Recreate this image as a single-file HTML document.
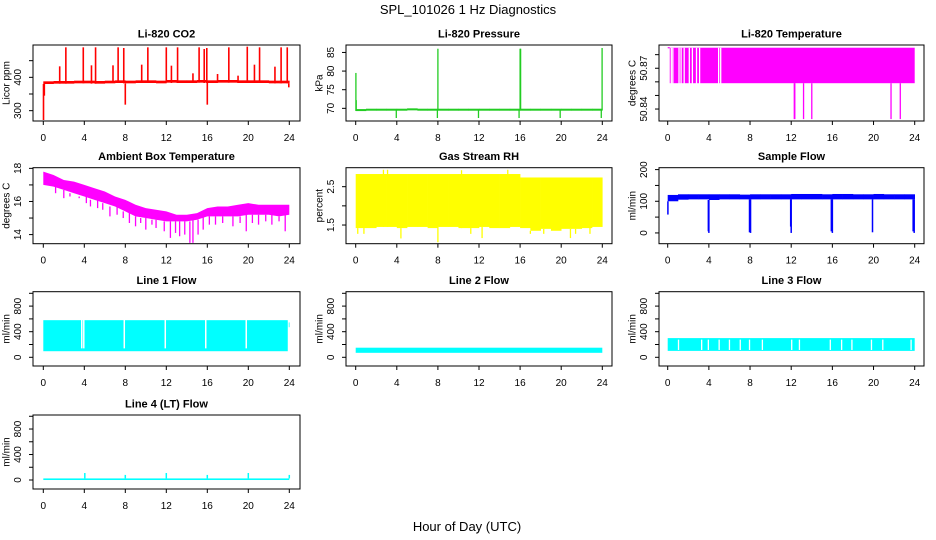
<!DOCTYPE html>
<html><head><meta charset="utf-8"><style>
html,body{margin:0;padding:0;background:#fff;}
svg{display:block;font-family:"Liberation Sans",Arial,sans-serif;}
</style></head><body>
<svg id="chart" width="936" height="540" viewBox="0 0 936 540" xmlns="http://www.w3.org/2000/svg">
<rect x="0" y="0" width="936" height="540" fill="#fff"/>
<text x="468" y="14" text-anchor="middle" font-size="13">SPL_101026  1 Hz Diagnostics</text>
<text x="467" y="531" text-anchor="middle" font-size="13">Hour of Day (UTC)</text>
</svg>
<script>
// ---------- data ----------
const hourTicks = [0,4,8,12,16,20,24];
const hours = [0,1,2,3,4,5,6,7,8,9,10,11,12,13,14,15,16,17,18,19,20,21,22,23,24];
// CO2
const co2BaseLow  = [380,381,381,382,382,381,382,383,382,383,383,382,384,383,383,384,383,384,384,383,383,383,382,382,382];
const co2BaseHigh = [388,389,389,390,390,389,390,391,390,391,391,390,392,391,391,392,391,392,392,391,391,391,390,390,390];
const co2SpikeHours = [0.02,0.1,1.6,2.2,3.9,4.7,5.1,6.8,7.3,7.85,8.0,9.6,10.2,12.0,12.5,13.1,14.6,15.2,15.7,15.95,16.0,17.0,18.1,19.0,19.9,20.6,21.1,22.6,23.2,23.8,23.95];
const co2SpikeVals  = [272,345,433,490,490,436,490,436,490,488,318,438,490,490,435,490,412,490,485,488,318,410,490,405,492,438,490,432,490,490,370];
// Pressure
const presBaseLow  = [69.3,69.4,69.4,69.4,69.5,69.5,69.5,69.5,69.5,69.5,69.5,69.5,69.5,69.5,69.5,69.5,69.5,69.5,69.5,69.5,69.5,69.5,69.5,69.5,69.5];
const presBaseHigh = [69.8,69.9,69.9,69.9,69.9,70.0,69.9,69.9,69.9,69.9,69.9,69.9,69.9,69.9,69.9,69.9,69.9,69.9,69.9,69.9,69.9,69.9,69.9,69.9,69.9];
const presSpikeHours = [0.02,0.05,3.95,7.95,8.0,11.95,15.9,16.0,16.05,19.9,23.9,23.98];
const presSpikeVals  = [79.5,72.2,67.4,67.4,86.0,67.4,67.4,86.0,86.0,67.4,67.4,86.2];
// Li-820 temperature
const ltBandLow = 50.859, ltBandHigh = 50.8851, ltBandStart = 0.2;
const ltGapHours = [0.35,0.5,1.1,1.3,1.6,2.1,2.4,2.8,3.1,4.95,5.15];
const ltSpikeHours = [12.3,12.35,13.2,14.0,21.7,22.6];
const ltSpikeVals  = [50.8326,50.8326,50.8326,50.8326,50.8326,50.8326];
// Ambient box temperature
const ambHigh = [17.8,17.6,17.3,17.2,17.0,16.8,16.6,16.3,16.1,15.8,15.6,15.5,15.4,15.2,15.2,15.3,15.6,15.7,15.7,15.8,15.9,15.8,15.8,15.8,15.8];
const ambLow  = [17.0,16.9,16.7,16.5,16.3,16.1,15.9,15.7,15.4,15.1,15.0,14.9,14.8,14.8,14.8,14.9,15.1,15.1,15.1,15.1,15.2,15.2,15.2,15.1,15.2];
const ambSpikeHours = [1.2,2,2.6,3.5,4.2,4.6,5.3,5.8,6.5,7.2,7.8,8.4,9.0,9.5,10.0,10.6,11.0,11.8,12.4,12.9,13.3,13.8,14.3,14.6,15.1,15.6,16.2,16.8,17.5,18.5,19.2,19.8,20.4,21.0,21.7,22.3,23.0,23.6];
const ambSpikeVals  = [16.5,16.2,16.3,16.2,15.9,15.7,15.6,15.5,15.1,15.2,15.0,14.7,14.5,14.7,14.3,14.6,14.4,14.2,13.8,14.1,13.9,14.0,13.5,13.5,14.0,14.3,14.6,14.6,14.7,14.5,14.7,14.2,14.7,14.6,14.8,14.6,14.8,14.2];
// RH
const rhHigh = [2.83,2.83,2.83,2.83,2.83,2.83,2.83,2.83,2.83,2.83,2.83,2.83,2.83,2.83,2.83,2.83,2.74,2.74,2.74,2.74,2.74,2.74,2.74,2.74,2.6];
const rhLow  = [1.42,1.42,1.45,1.45,1.42,1.45,1.45,1.42,1.45,1.45,1.42,1.42,1.45,1.42,1.42,1.45,1.42,1.35,1.40,1.35,1.40,1.40,1.42,1.45,2.1];
const rhSpikeHours = [0.2,0.8,2.7,3.1,4.4,8.0,10.3,11.2,12.3,14.8,17.0,18.3,20.9,21.4,22.8];
const rhSpikeVals  = [1.27,1.27,2.94,2.94,1.15,1.05,2.93,1.27,1.16,2.94,1.27,1.27,1.16,1.27,1.27];
// Sample flow
const sfLow  = [100,105,106,106,104,106,106,106,106,106,106,106,106,106,106,106,106,106,106,106,106,106,106,106,106];
const sfHigh = [120,122,122,122,122,122,122,121,122,122,122,122,123,123,123,122,123,123,122,122,123,122,122,122,118];
const sfSpikeHours = [0.02,3.95,4.0,7.95,8.05,11.95,12.0,15.9,16.0,19.9,23.85,23.95];
const sfSpikeVals  = [58,5,0,2,0,20,0,5,0,2,5,0];
// Line flows
const l1Low = 95, l1High = 580, l1End = [23.95,24.02], l1EndVals = [470,545];
const l1GapHours = [3.75,3.95,7.9,11.9,15.85,19.8];
const l2Low = 70, l2High = 150;
const l3Low = 100, l3High = 300;
const l3GapHours = [1.05,3.3,3.95,5.0,6.0,7.05,7.95,9.2,12.05,12.8,15.8,16.9,17.9,19.8,20.9,23.65];
const l4Low = 0, l4High = 25;
const l4SpikeHours = [4.05,8.0,12.0,16.0,20.0,24.0];
const l4SpikeVals  = [110,80,110,80,110,80];

// ---------- helpers ----------
const NS = "http://www.w3.org/2000/svg";
const svg = document.getElementById('chart');
function mk(tag, attrs, parent){
  const e = document.createElementNS(NS, tag);
  for (const k in attrs) e.setAttribute(k, attrs[k]);
  (parent||svg).appendChild(e);
  return e;
}
const cols = [[33,300,43.3,289.3],[346,612,355.7,602.3],[659,924,667.7,914.7]];
const rows = [[45,121],[167.7,243.7],[291.7,366],[415,489]];

function panel(name, col, row, title, ylab, ylim, yticks, ylabels){
  const [l,r,x0,x24] = cols[col];
  const [t,b] = rows[row];
  const g = mk('g', {});
  
  
  const X = h => x0 + (x24 - x0) * h / 24;
  const Y = v => b - (b - t) * (v - ylim[0]) / (ylim[1] - ylim[0]);
  const data = mk('g', {}, g);
  
  
  const finish = () => {
    const box = mk('rect', {x:l, y:t, width:r-l, height:b-t, fill:'none', stroke:'#000', 'stroke-width':1}, g);
    
    
    const tt = mk('text', {x:(l+r)/2, y:t-7.5, 'text-anchor':'middle', 'font-size':11, 'font-weight':'bold'}, g);
    tt.textContent = title;
    
    
    const xa = mk('g', {}, g);
    
    
    hourTicks.forEach(h => {
      mk('line', {x1:X(h), x2:X(h), y1:b, y2:b+4, stroke:'#000'}, xa);
      const tx = mk('text', {x:X(h), y:b+20, 'text-anchor':'middle', 'font-size':10}, xa);
      tx.textContent = h;
    });
    const ya = mk('g', {}, g);
    
    
    yticks.forEach((v,i) => {
      mk('line', {x1:l-4, x2:l, y1:Y(v), y2:Y(v), stroke:'#000'}, ya);
      if (ylabels[i] !== '') {
        const ty = mk('text', {x:0, y:0, 'text-anchor':'middle', 'font-size':10,
          transform:`translate(${l-12},${Y(v)}) rotate(-90)`}, ya);
        ty.textContent = ylabels[i];
      }
    });
    const yl = mk('text', {x:0, y:0, 'text-anchor':'middle', 'font-size':10,
      transform:`translate(${l-23.5},${(t+b)/2}) rotate(-90)`}, g);
    yl.textContent = ylab;
    
    
  };
  return {X, Y, g: data, finish};
}
function bandSteps(p, hs, lo, hi, color){
  for (let i = 0; i < hs.length - 1; i++) {
    const y1 = p.Y(hi[i]), y2 = p.Y(lo[i]);
    mk('rect', {x:p.X(hs[i]), y:y1, width:p.X(hs[i+1]) - p.X(hs[i]) + 0.3, height:Math.max(2, y2 - y1), fill:color}, p.g);
  }
}
function bandPoly(p, hs, lo, hi, color){
  const pts = [];
  hs.forEach((h,i) => pts.push(p.X(h) + ',' + p.Y(hi[i])));
  for (let i = hs.length - 1; i >= 0; i--) pts.push(p.X(hs[i]) + ',' + p.Y(lo[i]));
  mk('polygon', {points: pts.join(' '), fill: color}, p.g);
}
function spikes(p, hs, vs, baseFn, color, w){
  hs.forEach((h,i) => {
    mk('line', {x1:p.X(h), x2:p.X(h), y1:p.Y(baseFn(h)), y2:p.Y(vs[i]), stroke:color, 'stroke-width':w||1.5}, p.g);
  });
}
function lookup(arr){ return h => arr[Math.min(arr.length-1, Math.max(0, Math.round(h)))]; }
function gaps(p, hs, lo, hi, w){
  hs.forEach(h => mk('line', {x1:p.X(h), x2:p.X(h), y1:p.Y(hi)-1, y2:p.Y(lo)+1, stroke:'#fff', 'stroke-width':w||1.3}, p.g));
}
function constBand(p, h0, h1, lo, hi, color){
  mk('rect', {x:p.X(h0), y:p.Y(hi), width:p.X(h1)-p.X(h0), height:Math.max(1.5,p.Y(lo)-p.Y(hi)), fill:color}, p.g);
}

// ---------- panels ----------
let p;
p = panel('co2', 0, 0, 'Li-820 CO2', 'Licor ppm', [269,497], [300,350,400,450], ['300','','400','']);
bandSteps(p, hours, co2BaseLow, co2BaseHigh, '#ff0000');
spikes(p, co2SpikeHours, co2SpikeVals, lookup(co2BaseLow), '#ff0000', 1.6);
p.finish();

p = panel('pressure', 1, 0, 'Li-820 Pressure', 'kPa', [66.6,87], [70,75,80,85], ['70','75','80','85']);
bandSteps(p, hours, presBaseLow, presBaseHigh, '#22cc22');
spikes(p, presSpikeHours, presSpikeVals, lookup(presBaseLow), '#22cc22', 1.3);
p.finish();

p = panel('li820-temperature', 2, 0, 'Li-820 Temperature', 'degrees C', [50.8312,50.8871], [50.84,50.85,50.86,50.87,50.88], ['50.84','','','50.87','']);
mk('line', {x1:p.X(0), x2:p.X(ltBandStart), y1:p.Y(ltBandHigh), y2:p.Y(ltBandHigh), stroke:'#ff00ff', 'stroke-width':1.2}, p.g);
constBand(p, ltBandStart, 24, ltBandLow, ltBandHigh, '#ff00ff');
gaps(p, ltGapHours, ltBandLow, ltBandHigh - 0.0008, 1.3);
spikes(p, ltSpikeHours, ltSpikeVals, () => ltBandLow, '#ff00ff', 1.3);
p.finish();

p = panel('ambient-temperature', 0, 1, 'Ambient Box Temperature', 'degrees C', [13.45,18.04], [14,15,16,17,18], ['14','','16','','18']);
bandPoly(p, hours, ambLow, ambHigh, '#ff00ff');
spikes(p, ambSpikeHours, ambSpikeVals, lookup(ambLow), '#ff00ff', 1.3);
p.finish();

p = panel('gas-stream-rh', 1, 1, 'Gas Stream RH', 'percent', [1.013,2.995], [1.5,2.0,2.5], ['1.5','','2.5']);
bandSteps(p, hours, rhLow, rhHigh, '#ffff00');
spikes(p, rhSpikeHours, rhSpikeVals, lookup(rhLow), '#ffff00', 1.3);
p.finish();

p = panel('sample-flow', 2, 1, 'Sample Flow', 'ml/min', [-34,206], [0,50,100,150,200], ['0','','100','','200']);
bandSteps(p, hours, sfLow, sfHigh, '#0000ff');
spikes(p, sfSpikeHours, sfSpikeVals, lookup(sfLow), '#0000ff', 1.5);
p.finish();

const flowLim = [-136,1025], flowTicks = [0,200,400,600,800,1000], flowLabels = ['0','','400','','800',''];
p = panel('line-1-flow', 0, 2, 'Line 1 Flow', 'ml/min', flowLim, flowTicks, flowLabels);
constBand(p, 0, 23.85, l1Low, l1High, '#00ffff');
constBand(p, l1End[0], l1End[1], l1EndVals[0], l1EndVals[1], '#00ffff');
gaps(p, l1GapHours, l1Low + 60, l1High - 10, 1.5);
p.finish();

p = panel('line-2-flow', 1, 2, 'Line 2 Flow', 'ml/min', flowLim, flowTicks, flowLabels);
constBand(p, 0, 24, l2Low, l2High, '#00ffff');
p.finish();

p = panel('line-3-flow', 2, 2, 'Line 3 Flow', 'ml/min', flowLim, flowTicks, flowLabels);
constBand(p, 0, 24, l3Low, l3High, '#00ffff');
gaps(p, l3GapHours, l3Low + 30, l3High - 40, 1.3);
p.finish();

p = panel('line-4-flow', 0, 3, 'Line 4 (LT) Flow', 'ml/min', [-141,1020], flowTicks, flowLabels);
constBand(p, 0, 24, l4Low, l4High, '#00ffff');
spikes(p, l4SpikeHours, l4SpikeVals, () => l4High, '#00ffff', 1.5);
p.finish();
</script>
</body></html>
